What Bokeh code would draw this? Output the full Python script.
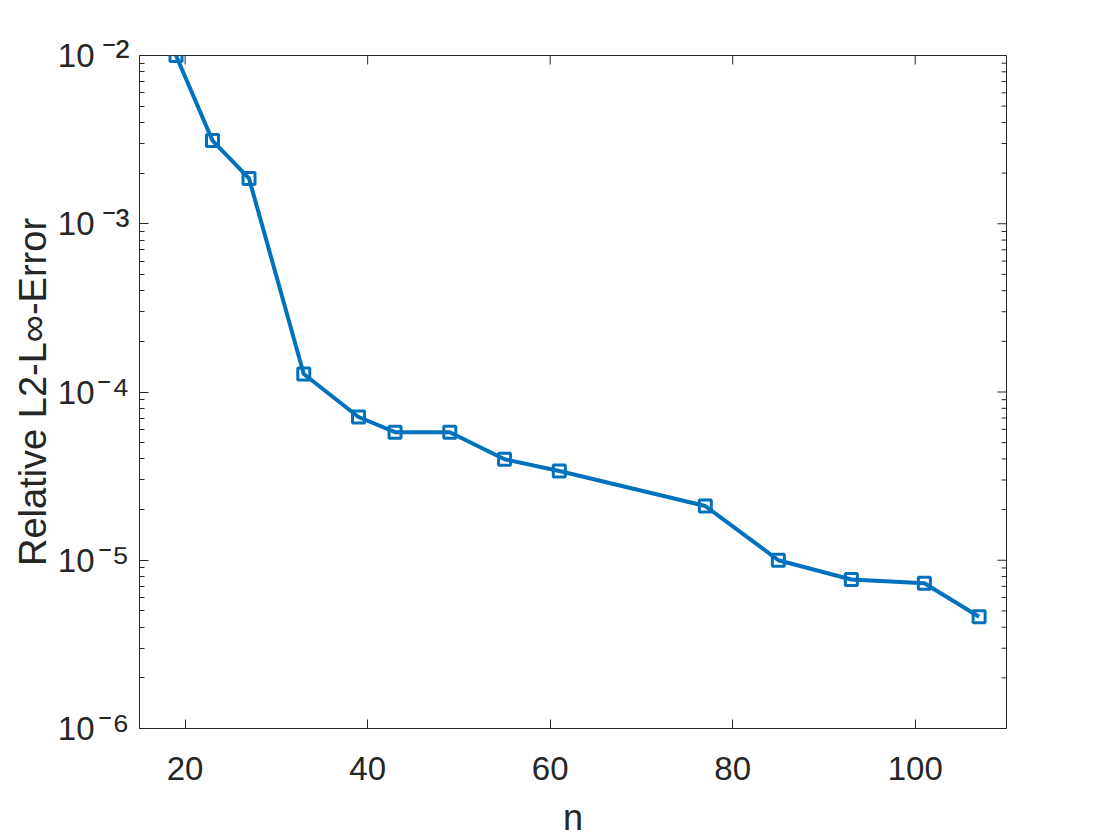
import math
from bokeh.plotting import figure
from bokeh.models import FixedTicker, CustomJSTickFormatter, Range1d, LogAxis
from bokeh.embed import file_html
from bokeh.resources import INLINE

# ---- data ----
n_values = [19, 23, 27, 33, 39, 43, 49, 55, 61, 77, 85, 93, 101, 107]
rel_error = [1.0e-2, 3.12e-3, 1.86e-3, 1.28e-4, 7.1e-5, 5.77e-5, 5.77e-5,
             3.98e-5, 3.39e-5, 2.1e-5, 1.0e-5, 7.68e-6, 7.3e-6, 4.62e-6]
x_tick_values = [20, 40, 60, 80, 100]
y_tick_values = [1e-6, 1e-5, 1e-4, 1e-3, 1e-2]
x_label = "n"
y_label = "Relative L2-L\u221e-Error"

y_minor = [m * 10.0 ** k for k in range(-6, -2) for m in range(2, 10)]

X_MIN, X_MAX = 15, 110
Y_MIN, Y_MAX = 1e-6, 1e-2

FONT = "Liberation Sans"
TXT = "#262626"
BLUE = "#0072BD"

p = figure(width=1104, height=832, frame_width=867, frame_height=673,
           x_range=Range1d(X_MIN, X_MAX), y_range=Range1d(Y_MIN, Y_MAX),
           y_axis_type="log", output_backend="svg", toolbar_location=None,
           min_border_left=139, min_border_top=55, min_border_right=98,
           min_border_bottom=104)
p.grid.visible = False
p.outline_line_color = TXT
p.outline_line_width = 1
p.background_fill_color = "white"
p.border_fill_color = "white"

# box ticks on top and right (pointing inward)
p.ray(x=x_tick_values, y=[Y_MAX] * len(x_tick_values), length=9,
      length_units="screen", angle=-math.pi / 2, line_color=TXT, line_width=1)
p.ray(x=[X_MAX] * len(y_tick_values), y=y_tick_values, length=9,
      length_units="screen", angle=math.pi, line_color=TXT, line_width=1)
p.ray(x=[X_MAX] * len(y_minor), y=y_minor, length=5,
      length_units="screen", angle=math.pi, line_color=TXT, line_width=1)

p.line(n_values, rel_error, line_color=BLUE, line_width=4)
p.scatter(n_values, rel_error, marker="square", size=12, line_color=BLUE,
          line_width=3, fill_color=None)

xt = FixedTicker(ticks=x_tick_values, minor_ticks=[])
yt = FixedTicker(ticks=y_tick_values, minor_ticks=y_minor)

xa = p.xaxis[0]
xa.ticker = xt
ya = p.yaxis[0]          # inner axis: ticks + superscript exponents
ya.ticker = yt
ya.formatter = CustomJSTickFormatter(code="""
const sup = {"-":"\u207b","0":"\u2070","1":"\u00b9","2":"\u00b2","3":"\u00b3","4":"\u2074","5":"\u2075","6":"\u2076","7":"\u2077","8":"\u2078","9":"\u2079"};
const e = Math.round(Math.log10(tick));
return String(e).split("").map(c => sup[c]).join("");
""")

for ax in (xa, ya):
    ax.axis_line_color = TXT
    ax.major_tick_line_color = TXT
    ax.minor_tick_line_color = TXT
    ax.major_tick_in = 9
    ax.major_tick_out = 0
    ax.minor_tick_in = 5
    ax.minor_tick_out = 0
    ax.major_label_text_font = FONT
    ax.major_label_text_color = TXT
    ax.axis_label_text_font = FONT
    ax.axis_label_text_font_size = "36px"
    ax.axis_label_text_font_style = "normal"
    ax.axis_label_text_color = TXT

xa.major_label_text_font_size = "33px"
xa.axis_label = x_label
xa.major_label_standoff = 28
xa.axis_label_standoff = 14

ya.major_label_text_font_size = "42px"
ya.major_label_standoff = 10

# outer axis: base "10" of each tick label and the axis title
yb = LogAxis(ticker=yt, formatter=CustomJSTickFormatter(code='return "10";'))
yb.axis_line_color = None
yb.major_tick_line_color = None
yb.minor_tick_line_color = None
yb.major_tick_in = 0
yb.major_tick_out = 0
yb.minor_tick_in = 0
yb.minor_tick_out = 0
yb.major_label_standoff = 0
yb.major_label_text_font = FONT
yb.major_label_text_font_size = "33px"
yb.major_label_text_color = TXT
yb.axis_label = y_label
yb.axis_label_text_font = FONT
yb.axis_label_text_font_size = "38px"
yb.axis_label_text_font_style = "normal"
yb.axis_label_text_color = TXT
yb.axis_label_standoff = 1
p.add_layout(yb, "left")

open("out.html", "w").write(file_html(p, INLINE))
